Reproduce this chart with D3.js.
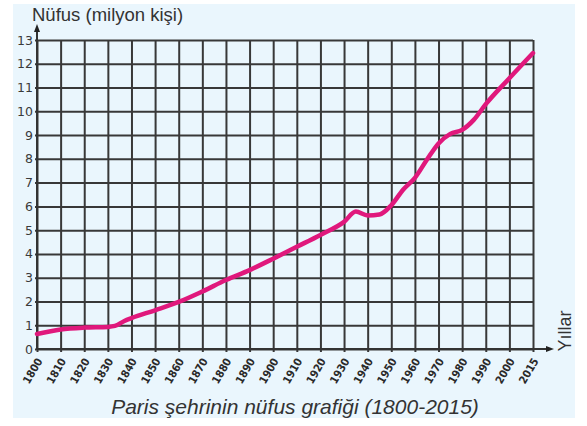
<!DOCTYPE html>
<html lang="tr">
<head>
<meta charset="UTF-8">
<title>Paris nüfus grafiği</title>
<script src="https://d3js.org/d3.v7.min.js"></script>
<style>
  body { margin: 0; background: #fff; }
  svg { display: block; font-family: "Liberation Sans", Arial, sans-serif; }
</style>
</head>
<body>
<div id="chart"></div>
<script>
// tick years on the x axis (2015 sits one step after 2000)
var tickYears = [1800, 1810, 1820, 1830, 1840, 1850, 1860, 1870, 1880, 1890, 1900,
                 1910, 1920, 1930, 1940, 1950, 1960, 1970, 1980, 1990, 2000, 2015];
var yTicks = d3.range(0, 14);

// population, million people
var years = [1800, 1810, 1820, 1830, 1833, 1837, 1840, 1850, 1860, 1870, 1880, 1890, 1900,
             1910, 1920, 1930, 1935, 1940, 1945, 1950, 1955, 1960, 1965, 1970, 1975, 1980,
             1985, 1990, 2000, 2015];
var population = [0.63, 0.82, 0.9, 0.93, 0.97, 1.18, 1.3, 1.63, 1.98, 2.42, 2.9, 3.32, 3.8,
                  4.3, 4.8, 5.35, 5.78, 5.62, 5.66, 6.05, 6.7, 7.2, 7.95, 8.65, 9.05, 9.22,
                  9.65, 10.3, 11.39, 12.45];

var W = 587, H = 426;
var x0 = 37, x1 = 533, yTop = 40, yBot = 349;

var svg = d3.select("#chart").append("svg")
    .attr("width", W).attr("height", H);

svg.append("rect")
    .attr("x", 13).attr("y", 4)
    .attr("width", 562).attr("height", 414)
    .attr("fill", "#eaf6fd");

var x = d3.scaleLinear()
    .domain([1800, 2000, 2015])
    .range([x0, x0 + (x1 - x0) * 20 / 21, x1]);

var y = d3.scaleLinear()
    .domain([0, 13])
    .range([yBot, yTop]);

// grid via axes
var gx = svg.append("g")
    .attr("transform", "translate(0," + yBot + ")")
    .call(d3.axisBottom(x)
        .tickValues(tickYears)
        .tickSizeInner(-(yBot - yTop))
        .tickSizeOuter(0)
        .tickFormat(d3.format("d")));
gx.select(".domain").remove();
gx.selectAll(".tick line")
    .attr("y2", -(yBot - yTop))
    .attr("y1", 3)
    .attr("stroke", "#383838")
    .attr("stroke-width", 2);
gx.selectAll(".tick text")
    .attr("y", 0)
    .attr("text-anchor", "end")
    .attr("transform", "translate(2,10) rotate(-60)")
    .attr("dy", "0.35em")
    .attr("fill", "#2a2a2a")
    .style("font-family", "'DejaVu Sans Condensed', 'DejaVu Sans', sans-serif")
    .style("font-weight", "bold")
    .style("font-size", "11px");

var gy = svg.append("g")
    .attr("transform", "translate(" + x0 + ",0)")
    .call(d3.axisLeft(y)
        .tickValues(yTicks)
        .tickSizeInner(-(x1 - x0))
        .tickSizeOuter(0));
gy.select(".domain").remove();
gy.selectAll(".tick line")
    .attr("x1", -2)
    .attr("stroke", "#383838")
    .attr("stroke-width", 2);
gy.selectAll(".tick text")
    .attr("x", -4)
    .attr("fill", "#3a3a3a")
    .style("font-family", "'DejaVu Sans', sans-serif")
    .style("font-size", "12.5px");

// axis arrows
svg.append("line")
    .attr("x1", x0).attr("x2", x0)
    .attr("y1", yBot).attr("y2", 30)
    .attr("stroke", "#333").attr("stroke-width", 2);
svg.append("path")
    .attr("d", "M" + x0 + ",24 L" + (x0 - 3) + ",32 L" + (x0 + 3) + ",32 Z")
    .attr("fill", "#222");
svg.append("line")
    .attr("x1", x0).attr("x2", 548)
    .attr("y1", yBot).attr("y2", yBot)
    .attr("stroke", "#333").attr("stroke-width", 2);
svg.append("path")
    .attr("d", "M554," + yBot + " L546," + (yBot - 3) + " L546," + (yBot + 3) + " Z")
    .attr("fill", "#222");

// population line
var line = d3.line()
    .x(function (d, i) { return x(years[i]); })
    .y(function (d) { return y(d); })
    .curve(d3.curveMonotoneX);

svg.append("path")
    .datum(population)
    .attr("d", line)
    .attr("fill", "none")
    .attr("stroke", "#e0187c")
    .attr("stroke-width", 4.5)
    .attr("stroke-linecap", "round")
    .attr("stroke-linejoin", "round");

// labels
svg.append("text")
    .attr("x", 32).attr("y", 21)
    .attr("fill", "#333")
    .style("font-size", "18.5px")
    .text("Nüfus (milyon kişi)");

svg.append("text")
    .attr("transform", "translate(571,331) rotate(-90)")
    .attr("text-anchor", "middle")
    .attr("fill", "#333")
    .style("font-size", "18px")
    .text("Yıllar");

svg.append("text")
    .attr("x", 295).attr("y", 414)
    .attr("text-anchor", "middle")
    .attr("fill", "#333")
    .style("font-size", "21px")
    .style("font-style", "italic")
    .text("Paris şehrinin nüfus grafiği (1800-2015)");
</script>
</body>
</html>
